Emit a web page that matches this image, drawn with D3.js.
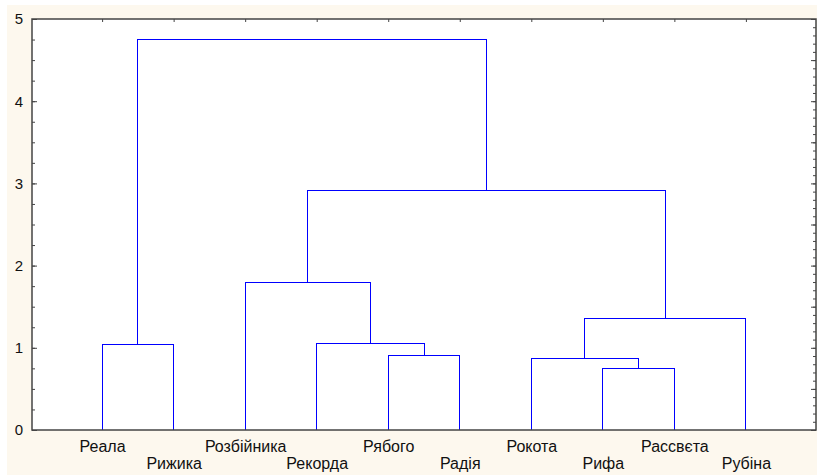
<!DOCTYPE html>
<html>
<head>
<meta charset="utf-8">
<script src="https://cdn.jsdelivr.net/npm/d3@7"></script>
<style>
  body { margin: 0; background: #fff; }
  svg { display: block; }
  text { font-family: "Liberation Sans", Arial, sans-serif; fill: #111; }
</style>
</head>
<body>
<svg id="chart" width="819" height="475"></svg>
<script>
// leaves of the tree, left to right
const leaves = ["Реала", "Рижика", "Розбійника", "Рекорда", "Рябого", "Радія", "Рокота", "Рифа", "Рассвєта", "Рубіна"];

// linkage: node ids 0..9 are leaves, each merge makes id 10, 11, ...
const mergeA = [7, 6, 4, 0, 3, 11, 2, 16, 13];
const mergeB = [8, 10, 5, 1, 12, 9, 14, 15, 17];
const mergeHeight = [0.745, 0.875, 0.91, 1.04, 1.055, 1.36, 1.79, 2.91, 4.75];

const yTicks = [0, 1, 2, 3, 4, 5];

const plotL = 32, plotR = 816, plotT = 19, plotB = 430;

const svg = d3.select("#chart");

// cream background + white plot area
svg.append("rect").attr("x", 7).attr("y", 5).attr("width", 810).attr("height", 470).attr("fill", "#fdf8ee");
svg.append("rect").attr("x", plotL).attr("y", plotT).attr("width", plotR - plotL).attr("height", plotB - plotT).attr("fill", "#fff");

const x = d3.scalePoint().domain(leaves).range([plotL, plotR]).padding(0.98);
const y = d3.scaleLinear().domain([0, 5]).range([plotB, plotT]);

// positions of every node
const nodeX = leaves.map((d) => x(d));
const nodeH = leaves.map(() => 0);
mergeA.forEach((a, i) => {
  const b = mergeB[i];
  nodeX.push((nodeX[a] + nodeX[b]) / 2);
  nodeH.push(mergeHeight[i]);
});

const links = mergeA.map((a, i) => ({ a, b: mergeB[i], h: mergeHeight[i] }));

svg.append("g")
  .selectAll("path")
  .data(links)
  .enter()
  .append("path")
  .attr("fill", "none")
  .attr("stroke", "#0000ff")
  .attr("stroke-width", 1)
  .attr("shape-rendering", "crispEdges")
  .attr("d", (d) =>
    `M${nodeX[d.a]},${y(nodeH[d.a])}V${y(d.h)}H${nodeX[d.b]}V${y(nodeH[d.b])}`
  );

// axes, ticks point inward
const axisColor = "#444";

const gl = svg.append("g").attr("transform", `translate(${plotL},0)`)
  .call(d3.axisLeft(y).tickValues(d3.range(0, 5.01, 0.25)).tickSize(-3).tickFormat(""));
gl.append("g").call(d3.axisLeft(y).tickValues(yTicks).tickSize(-5).tickPadding(9).tickFormat(d3.format("d")));

const gr = svg.append("g").attr("transform", `translate(${plotR},0)`)
  .call(d3.axisRight(y).tickValues(d3.range(0, 5.001, 0.1)).tickSize(-3).tickFormat(""));
gr.append("g").call(d3.axisRight(y).tickValues(d3.range(0, 5.01, 0.5)).tickSize(-5).tickFormat(""));

const gt = svg.append("g").attr("transform", `translate(0,${plotT})`)
  .call(d3.axisTop(x).tickSize(-3).tickFormat(""));

const gb = svg.append("g").attr("transform", `translate(0,${plotB})`)
  .call(d3.axisBottom(x).tickSize(0).tickPadding(0));

gb.selectAll(".tick text")
  .attr("dy", null)
  .attr("y", (d, i) => (i % 2 === 0 ? 22 : 39));

svg.selectAll(".domain").remove();
svg.selectAll(".tick line").attr("stroke", axisColor);
svg.selectAll(".tick text").attr("fill", "#111");
gl.selectAll(".tick text").style("font-size", "15px");
gb.selectAll(".tick text").style("font-size", "16px");

// frame
svg.append("rect")
  .attr("x", plotL).attr("y", plotT)
  .attr("width", plotR - plotL).attr("height", plotB - plotT)
  .attr("fill", "none").attr("stroke", axisColor).attr("stroke-width", 1.5);
</script>
</body>
</html>
